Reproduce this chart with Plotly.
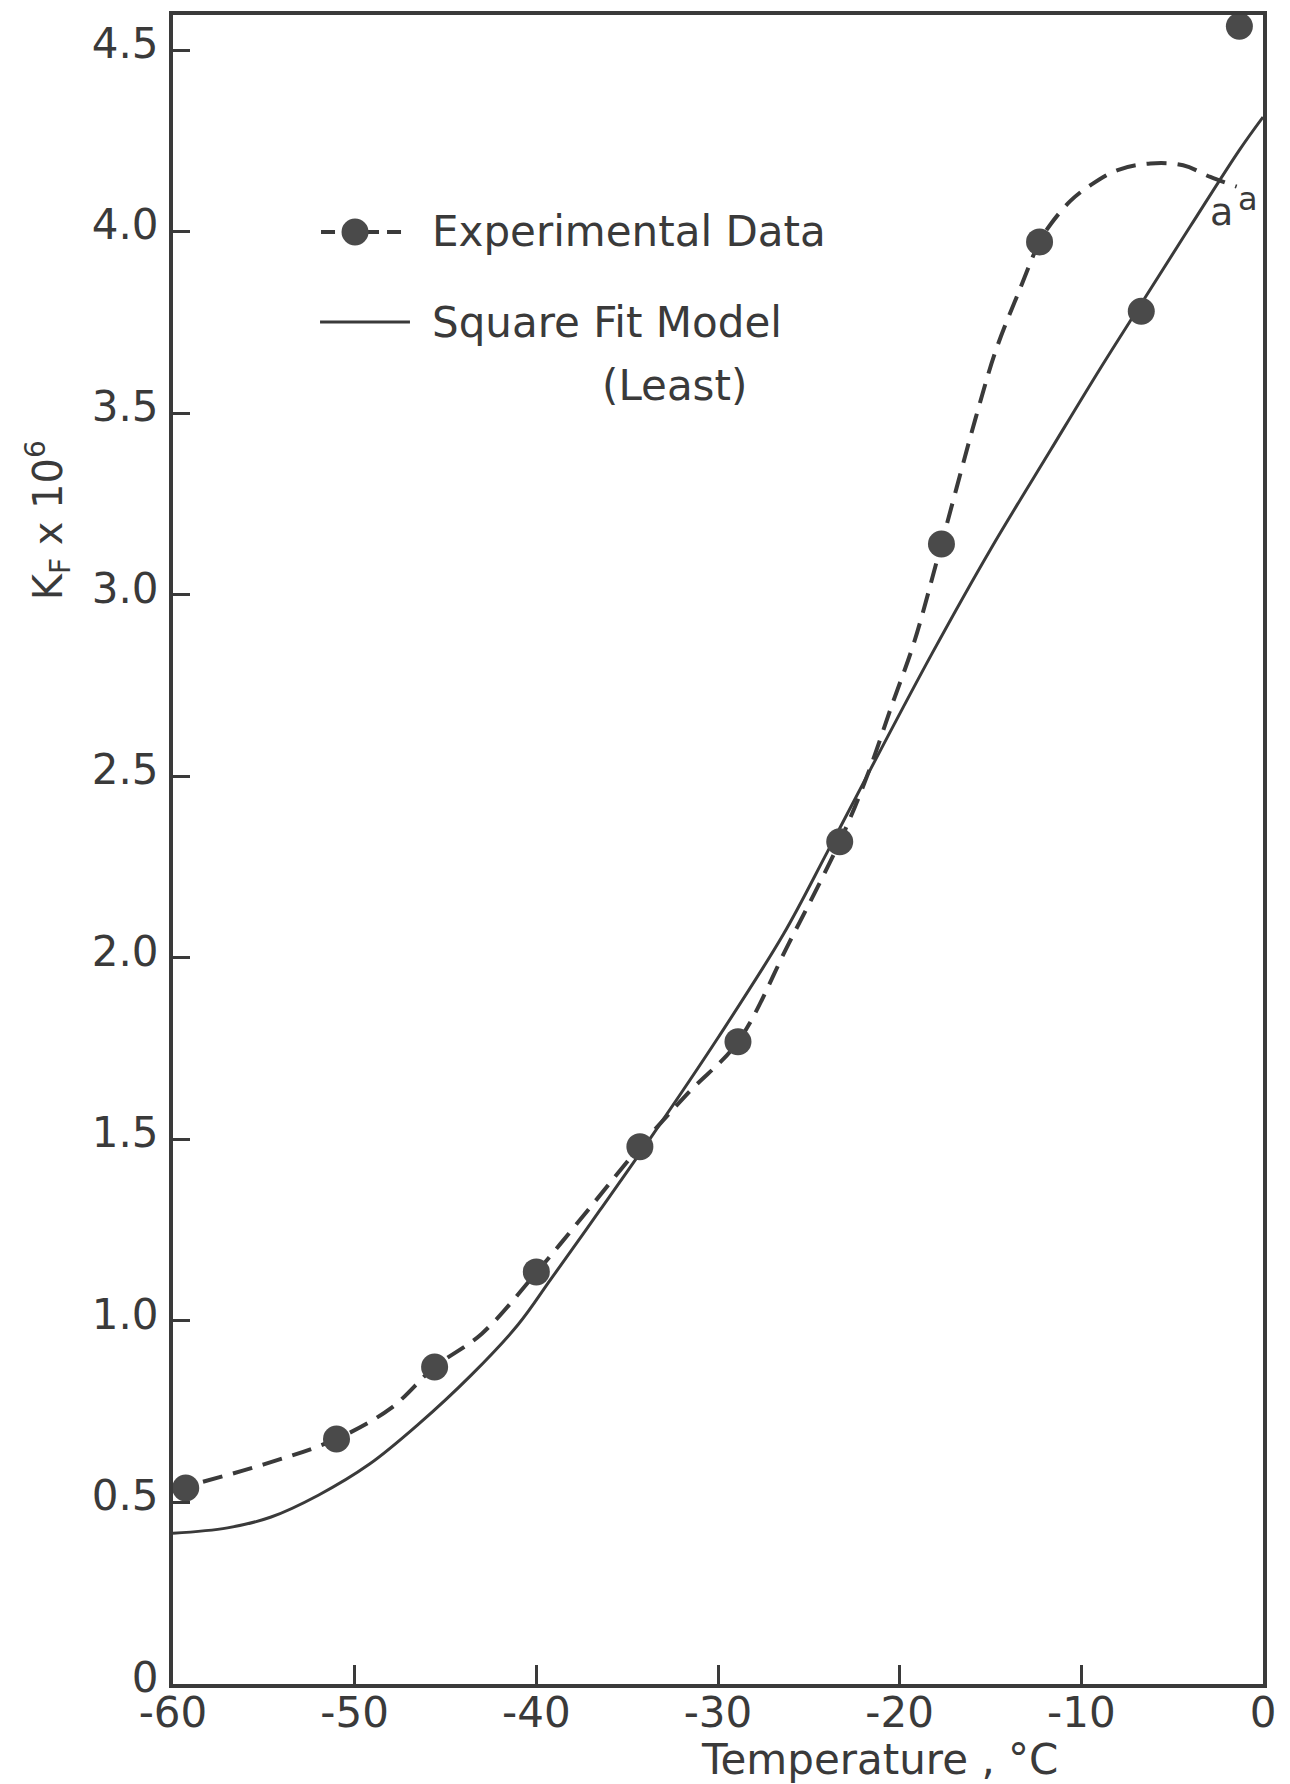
import plotly.graph_objects as go

# Experimental measurements of K_F (x10^6) against temperature
exp_temp = [-59.3, -51.0, -45.6, -40.0, -34.3, -28.9, -23.3, -17.7, -12.3, -6.7, -1.3]
exp_kf = [0.54, 0.675, 0.873, 1.135, 1.48, 1.769, 2.32, 3.14, 3.972, 3.781, 4.566]

# Hand-drawn trend through the experimental data (dashed curve)
trend_temp = [-60.0, -55.0, -51.0, -48.0, -45.6, -43.0, -40.0, -37.0, -34.3, -31.6,
              -28.9, -26.1, -23.3, -21.8, -20.4, -19.2, -17.7, -15.8, -14.7, -13.4,
              -12.3, -11.7, -10.6, -9.5, -8.0, -6.2, -4.4, -2.9, -1.45]
trend_kf = [0.535, 0.605, 0.675, 0.76, 0.873, 0.965, 1.133, 1.315, 1.48, 1.63,
            1.769, 2.04, 2.32, 2.50, 2.70, 2.87, 3.14, 3.49, 3.674, 3.84,
            3.972, 4.02, 4.085, 4.128, 4.17, 4.188, 4.183, 4.151, 4.124]

# Least square fit model (solid curve)
fit_temp = [-60.0, -57.0, -54.6, -52.0, -49.2, -46.5, -43.6, -41.0, -39.2, -36.5, -33.7,
            -30.0, -26.4, -24.0, -21.6, -18.2, -15.0, -11.7, -9.0, -6.6, -4.0, -1.3, 0.0]
fit_kf = [0.415, 0.43, 0.46, 0.52, 0.605, 0.715, 0.85, 0.99, 1.115, 1.305, 1.505,
          1.78, 2.065, 2.29, 2.52, 2.84, 3.125, 3.398, 3.62, 3.81, 4.015, 4.225, 4.316]

# Axis ticks
x_ticks = [-60, -50, -40, -30, -20, -10, 0]
x_tick_text = ["-60", "-50", "-40", "-30", "-20", "-10", "0"]
y_ticks = [0, 0.5, 1.0, 1.5, 2.0, 2.5, 3.0, 3.5, 4.0, 4.5]
y_tick_text = ["0", "0.5", "1.0", "1.5", "2.0", "2.5", "3.0", "3.5", "4.0", "4.5"]

INK = "#3a3a3a"
DOT = "#4a4a4a"
FONT = "DejaVu Sans"

fig = go.Figure()

fig.add_trace(go.Scatter(
    x=fit_temp, y=fit_kf, mode="lines",
    line=dict(color=INK, width=3, shape="spline", smoothing=1.0),
    showlegend=False, hoverinfo="skip",
))
fig.add_trace(go.Scatter(
    x=trend_temp, y=trend_kf, mode="lines",
    line=dict(color=INK, width=4, dash="20px,11px", shape="spline", smoothing=1.0),
    showlegend=False, hoverinfo="skip",
))
fig.add_trace(go.Scatter(
    x=exp_temp, y=exp_kf, mode="markers",
    marker=dict(size=27, color=DOT, line=dict(width=0)),
    cliponaxis=False, showlegend=False,
))

axis_common = dict(
    ticks="inside", tickwidth=3, tickcolor=INK,
    showline=True, linewidth=4, linecolor=INK, mirror=True,
    showgrid=False, zeroline=False,
    tickfont=dict(family=FONT, size=42, color=INK),
)

fig.update_layout(
    width=1290, height=1784,
    margin=dict(l=173, r=27, t=15, b=100, pad=0),
    paper_bgcolor="white", plot_bgcolor="white",
    font=dict(family=FONT, color=INK),
    xaxis=dict(range=[-60, 0], tickvals=x_ticks, ticktext=x_tick_text,
               ticklen=19, ticklabelstandoff=-11, **axis_common),
    yaxis=dict(range=[0, 4.597], tickvals=y_ticks, ticktext=y_tick_text,
               ticklen=17, ticklabelstandoff=2, ticklabelshift=-7, **axis_common),
)

# Legend drawn in plot-area coordinates
leg_y1 = 0.870
leg_y2 = 0.816
fig.add_shape(type="line", xref="paper", yref="paper",
              x0=0.1358, x1=0.2147, y0=leg_y1, y1=leg_y1,
              line=dict(color=INK, width=4, dash="14px,8px"))
fig.add_shape(type="circle", xref="paper", yref="paper",
              xsizemode="pixel", ysizemode="pixel",
              xanchor=0.167, yanchor=leg_y1,
              x0=-13.5, x1=13.5, y0=-13.5, y1=13.5,
              fillcolor=DOT, line=dict(width=0))
fig.add_shape(type="line", xref="paper", yref="paper",
              x0=0.1349, x1=0.2174, y0=leg_y2, y1=leg_y2,
              line=dict(color=INK, width=3))

annotations = [
    dict(text="Experimental Data", x=0.2358, y=leg_y1, xanchor="left", yanchor="middle",
         font=dict(size=42)),
    dict(text="Square Fit Model", x=0.2358, y=leg_y2, xanchor="left", yanchor="middle",
         font=dict(size=42)),
    dict(text="(Least)", x=0.3917, y=0.7783, xanchor="left", yanchor="middle",
         font=dict(size=42)),
    # axis titles
    dict(text="Temperature , °C", x=0.6486, y=-0.0455, xanchor="center", yanchor="middle",
         font=dict(size=42)),
    dict(text="K<sub>F</sub> x 10<sup>6</sup>", x=-0.115, y=0.697, textangle=-90,
         xanchor="center", yanchor="middle", font=dict(size=40)),
]
for a in annotations:
    a.update(xref="paper", yref="paper", showarrow=False)
    fig.add_annotation(**a)

# Point labels near the right edge
fig.add_annotation(text="a", x=-2.26, y=4.054, xref="x", yref="y", showarrow=False,
                   font=dict(size=38, color=INK))
fig.add_annotation(text="a", x=-0.83, y=4.09, xref="x", yref="y", showarrow=False,
                   font=dict(size=32, color=INK))

fig.write_html("out.html")
